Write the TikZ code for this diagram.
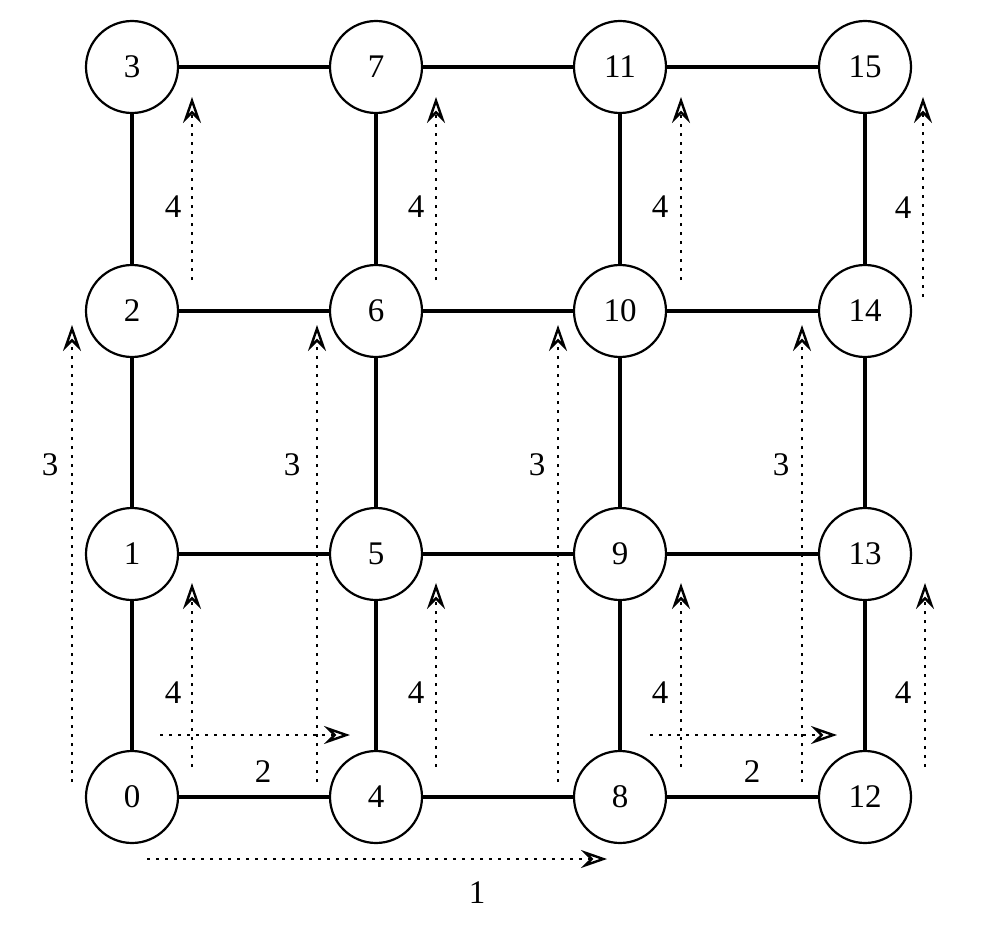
\documentclass[tikz,border=0pt]{standalone}
\usepackage{fontspec}
\setmainfont{Liberation Serif}
\usetikzlibrary{arrows.meta}
\begin{document}
\begin{tikzpicture}[x=1pt,y=-1pt,
  pe/.style={circle,draw,line width=2.2pt,minimum size=92pt,inner sep=0pt,font=\fontsize{33}{33}\selectfont,fill=white},
  link/.style={line width=4.5pt},
  hop/.style={line width=2.7pt,dash pattern=on 2.7pt off 6.3pt,
    -{Stealth[open,length=26pt,width=18pt,inset=9pt,line width=2.4pt]}},
  lab/.style={font=\fontsize{33}{33}\selectfont,inner sep=0pt}]
\useasboundingbox (0,0) rectangle (982,952);
% coordinates of dotted arrows
\foreach \i/\x in {0/192,1/436,2/681,3/925}{
  \coordinate (bs\i) at (\x,767); \coordinate (be\i) at (\x,583);
}
\coordinate (ts0) at (192,280); \coordinate (te0) at (192,97);
\coordinate (ts1) at (436,280); \coordinate (te1) at (436,97);
\coordinate (ts2) at (681,280); \coordinate (te2) at (681,97);
\coordinate (ts3) at (923,297); \coordinate (te3) at (923,97);
\foreach \i/\x in {0/72,1/317,2/558,3/802}{
  \coordinate (ms\i) at (\x,782); \coordinate (me\i) at (\x,325);
}
\coordinate (hs0) at (160,735); \coordinate (he0) at (350,735);
\coordinate (hs1) at (650,735); \coordinate (he1) at (837,735);
\coordinate (os) at (147,859); \coordinate (oe) at (607,859);
% dotted arrows
\foreach \i in {0,1,2,3}{
  \draw[hop] (bs\i) -- (be\i);
  \draw[hop] (ts\i) -- (te\i);
  \draw[hop] (ms\i) -- (me\i);
}
\draw[hop] (hs0) -- (he0);
\draw[hop] (hs1) -- (he1);
\draw[hop] (os) -- (oe);
% labels
\foreach \x in {173,416,660}{
  \node[lab] at (\x,207) {4};
  \node[lab] at (\x,693) {4};
}
\node[lab] at (903,208) {4};
\node[lab] at (903,693) {4};
\foreach \x in {50,292,537,781}{ \node[lab] at (\x,465) {3}; }
\node[lab] at (263,772) {2};
\node[lab] at (752,772) {2};
\node[lab] at (477,893) {1};
% nodes
\foreach \c/\x in {0/132,1/376,2/620,3/865}{
  \foreach \r/\y in {0/797,1/554,2/311,3/67}{
    \pgfmathtruncatemacro{\k}{4*\c+\r}
    \node[pe] (n\k) at (\x,\y) {\k};
  }
}
% links
\foreach \c in {0,1,2,3}{
  \foreach \r in {0,1,2}{
    \pgfmathtruncatemacro{\a}{4*\c+\r}
    \pgfmathtruncatemacro{\b}{4*\c+\r+1}
    \draw[link] (n\a) -- (n\b);
  }
}
\foreach \c in {0,1,2}{
  \foreach \r in {0,1,2,3}{
    \pgfmathtruncatemacro{\a}{4*\c+\r}
    \pgfmathtruncatemacro{\b}{4*\c+\r+4}
    \draw[link] (n\a) -- (n\b);
  }
}
\end{tikzpicture}
\end{document}
